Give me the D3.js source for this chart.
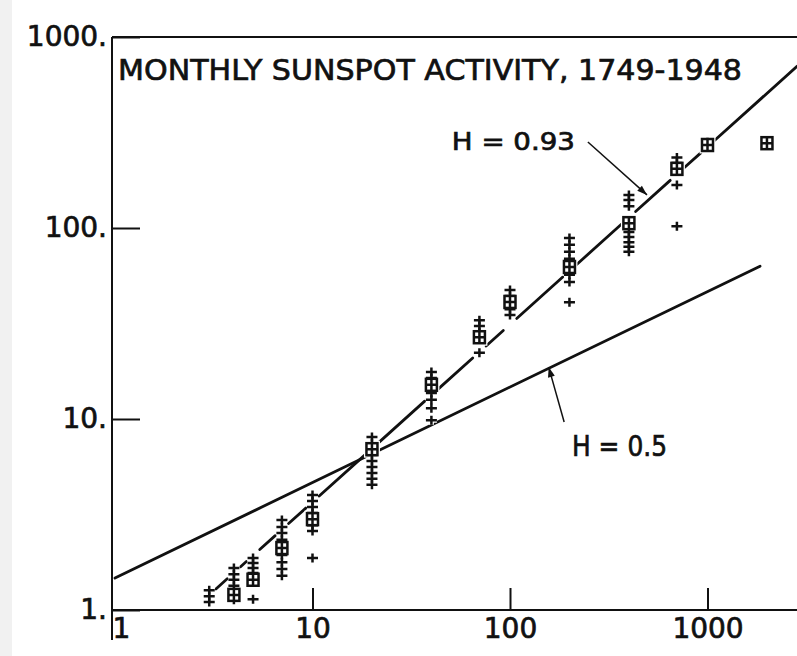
<!doctype html>
<html>
  <head>
    <script src="https://cdnjs.cloudflare.com/ajax/libs/d3/7.8.5/d3.min.js"></script>
    <style>
      body { margin: 0; background: #fff; }
      text { font-family: "DejaVu Sans", sans-serif; fill: #111; stroke: #111; stroke-width: 0.7px; }
    </style>
  </head>
  <body>
    <svg></svg>
    <script>
      var width = 797,
          height = 656;

      // lags (x) and rescaled range values
      var lags = [3, 4, 5, 7, 10, 20, 40, 70, 100, 200, 400, 700, 1000, 2000];
      var meanRS = [null, 1.20, 1.44, 2.11, 2.99, 6.95, 15.1, 26.8, 41.0, 62.5, 106, 204, 272, 278];
      var rsPoints = [
        [1.27, 1.18, 1.10],
        [1.66, 1.54, 1.44, 1.34, 1.24, 1.13],
        [1.87, 1.76, 1.66, 1.56, 1.14],
        [2.96, 2.72, 2.53, 2.33, 1.94, 1.78, 1.64, 1.51],
        [4.0, 3.72, 3.46, 3.22, 2.78, 2.59, 1.87],
        [8.05, 7.46, 6.47, 6.03, 5.61, 5.22, 4.86, 4.52],
        [17.6, 16.4, 13.7, 12.6, 11.4, 9.85],
        [32.9, 30.7, 28.5, 22.2],
        [47.3, 44.0, 37.6, 35.0],
        [88.7, 81.6, 75.0, 69.0, 56.9, 52.2, 40.9],
        [149, 140, 130, 95.4, 89.6, 84.2, 79.7, 75.0],
        [234, 219, 168, 102],
        [281, 265],
        [285, 271]
      ];
      var xTicks = [1, 10, 100, 1000];
      var yTicks = [1, 10, 100, 1000];

      // fitted lines: log y = a + H * log x
      var fitH = [0.93, 0.5];
      var fitA = [0.845 - 0.93 * Math.log10(20), Math.log10(1.47)];
      var fitEnd = [2840, 1845];
      var fitStart = [3, 1];

      var x = d3.scaleLog().domain([1, 1000]).range([115, 707.5]);
      var y = d3.scaleLog().domain([1, 1000]).range([610, 37]);

      var svg = d3.select("svg").attr("width", width).attr("height", height);
      svg.append("rect").attr("width", 12).attr("height", height).attr("fill", "#f1f1f1");

      // frame
      var frame = svg.append("g").attr("stroke", "#111").attr("stroke-width", 2);
      frame.append("line").attr("x1", 112).attr("x2", width).attr("y1", y(1000)).attr("y2", y(1000));
      frame.append("line").attr("x1", 112).attr("x2", 112).attr("y1", y(1000)).attr("y2", 640);
      frame.append("line").attr("x1", 112).attr("x2", width).attr("y1", y(1)).attr("y2", y(1));

      var yAxis = svg.append("g").attr("transform", "translate(112,0)")
        .call(d3.axisLeft(y).tickValues(yTicks).tickSizeInner(-28).tickSizeOuter(0)
          .tickPadding(5).tickFormat(function(d) { return d + "."; }));
      var xAxis = svg.append("g").attr("transform", "translate(0," + y(1) + ")")
        .call(d3.axisBottom(x).tickValues(xTicks).tickSizeInner(-22).tickSizeOuter(0)
          .tickPadding(8).tickFormat(d3.format("d")));
      svg.selectAll(".domain").remove();
      svg.selectAll(".tick line").attr("stroke", "#111").attr("stroke-width", 2);
      svg.selectAll(".tick text").attr("font-size", 28).attr("fill", "#111")
        .attr("font-family", "DejaVu Sans");
      xAxis.selectAll(".tick").filter(function(d) { return d === 1; }).select("line").remove();
      xAxis.selectAll(".tick").filter(function(d) { return d === 1; }).select("text").attr("x", 6);

      // title
      svg.append("text").attr("x", 118).attr("y", 80).attr("font-size", 29)
        .attr("textLength", 624).attr("lengthAdjust", "spacingAndGlyphs")
        .text("MONTHLY SUNSPOT ACTIVITY, 1749-1948");

      function fit(i, v) { return Math.pow(10, fitA[i] + fitH[i] * Math.log10(v)); }

      // H = 0.5 line
      svg.append("line")
        .attr("x1", x(fitStart[1])).attr("y1", y(fit(1, fitStart[1])))
        .attr("x2", x(fitEnd[1])).attr("y2", y(fit(1, fitEnd[1])))
        .attr("stroke", "#111").attr("stroke-width", 2.8).attr("stroke-linecap", "round");

      // H = 0.93 line, broken at each cluster
      var knots = lags.slice(0, 13).concat([fitEnd[0]]);
      var segs = [];
      for (var i = 0; i < knots.length - 1; i++) {
        var p0 = [x(knots[i]), y(fit(0, knots[i]))],
            p1 = [x(knots[i + 1]), y(fit(0, knots[i + 1]))];
        var dx = p1[0] - p0[0], dy = p1[1] - p0[1], len = Math.sqrt(dx * dx + dy * dy);
        var g0 = 9, g1 = i === knots.length - 2 ? 0 : 9;
        segs.push([p0[0] + dx * g0 / len, p0[1] + dy * g0 / len, p1[0] - dx * g1 / len, p1[1] - dy * g1 / len]);
      }
      svg.selectAll(".seg").data(segs).enter().append("line").attr("class", "seg")
        .attr("x1", function(d) { return d[0]; }).attr("y1", function(d) { return d[1]; })
        .attr("x2", function(d) { return d[2]; }).attr("y2", function(d) { return d[3]; })
        .attr("stroke", "#111").attr("stroke-width", 2.8).attr("stroke-linecap", "round");

      // points
      var pts = [];
      lags.forEach(function(l, i) {
        rsPoints[i].forEach(function(v) { pts.push([l, v]); });
      });
      var means = [];
      lags.forEach(function(l, i) { if (meanRS[i] !== null) means.push([l, meanRS[i]]); });

      function plus(d) {
        var cx = x(d[0]), cy = y(d[1]);
        return "M" + (cx - 5.5) + "," + cy + "H" + (cx + 5.5) + "M" + cx + "," + (cy - 4.5) + "V" + (cy + 4.5);
      }
      var halo = svg.append("g").attr("stroke", "#fff").attr("stroke-width", 5).attr("fill", "#fff");
      halo.selectAll("path").data(pts).enter().append("path").attr("d", plus);
      halo.selectAll("rect").data(means).enter().append("rect")
        .attr("x", function(d) { return x(d[0]) - 5.5; }).attr("y", function(d) { return y(d[1]) - 6; })
        .attr("width", 11).attr("height", 12);

      var marks = svg.append("g").attr("stroke", "#111").attr("stroke-width", 2.5).attr("fill", "none");
      marks.selectAll("path").data(pts).enter().append("path").attr("d", plus);
      marks.selectAll("rect").data(means).enter().append("rect")
        .attr("x", function(d) { return x(d[0]) - 5.5; }).attr("y", function(d) { return y(d[1]) - 6; })
        .attr("width", 11).attr("height", 12).attr("fill", "#fff");
      marks.selectAll(".mp").data(means).enter().append("path").attr("class", "mp")
        .attr("d", function(d) {
          var cx = x(d[0]), cy = y(d[1]);
          return "M" + (cx - 5.5) + "," + cy + "H" + (cx + 5.5) + "M" + cx + "," + (cy - 6) + "V" + (cy + 6);
        });

      // annotations (data coordinates)
      var notes = [
        { label: "H = 0.93", tx: 213, ty: 256, anchor: "end", size: 24, len: 123,
          from: [248, 282], to: [494, 149] },
        { label: "H = 0.5", tx: 206, ty: 6.4, anchor: "start", size: 28, len: 95,
          from: [188, 9.64], to: [157, 18.7] }
      ];
      notes.forEach(function(n) {
        var a = [x(n.from[0]), y(n.from[1])], b = [x(n.to[0]), y(n.to[1])];
        svg.append("line").attr("x1", a[0]).attr("y1", a[1]).attr("x2", b[0]).attr("y2", b[1])
          .attr("stroke", "#111").attr("stroke-width", 1.5);
        var ang = Math.atan2(b[1] - a[1], b[0] - a[0]);
        var L = 10, W = 3.5;
        var bx = b[0] - L * Math.cos(ang), by = b[1] - L * Math.sin(ang);
        svg.append("path")
          .attr("d", "M" + b[0] + "," + b[1] +
            "L" + (bx - W * Math.sin(ang)) + "," + (by + W * Math.cos(ang)) +
            "L" + (bx + W * Math.sin(ang)) + "," + (by - W * Math.cos(ang)) + "Z")
          .attr("fill", "#111");
        svg.append("text").attr("x", x(n.tx)).attr("y", y(n.ty))
          .attr("text-anchor", n.anchor).attr("font-size", n.size)
          .attr("textLength", n.len).attr("lengthAdjust", "spacingAndGlyphs")
          .text(n.label);
      });
    </script>
  </body>
</html>
